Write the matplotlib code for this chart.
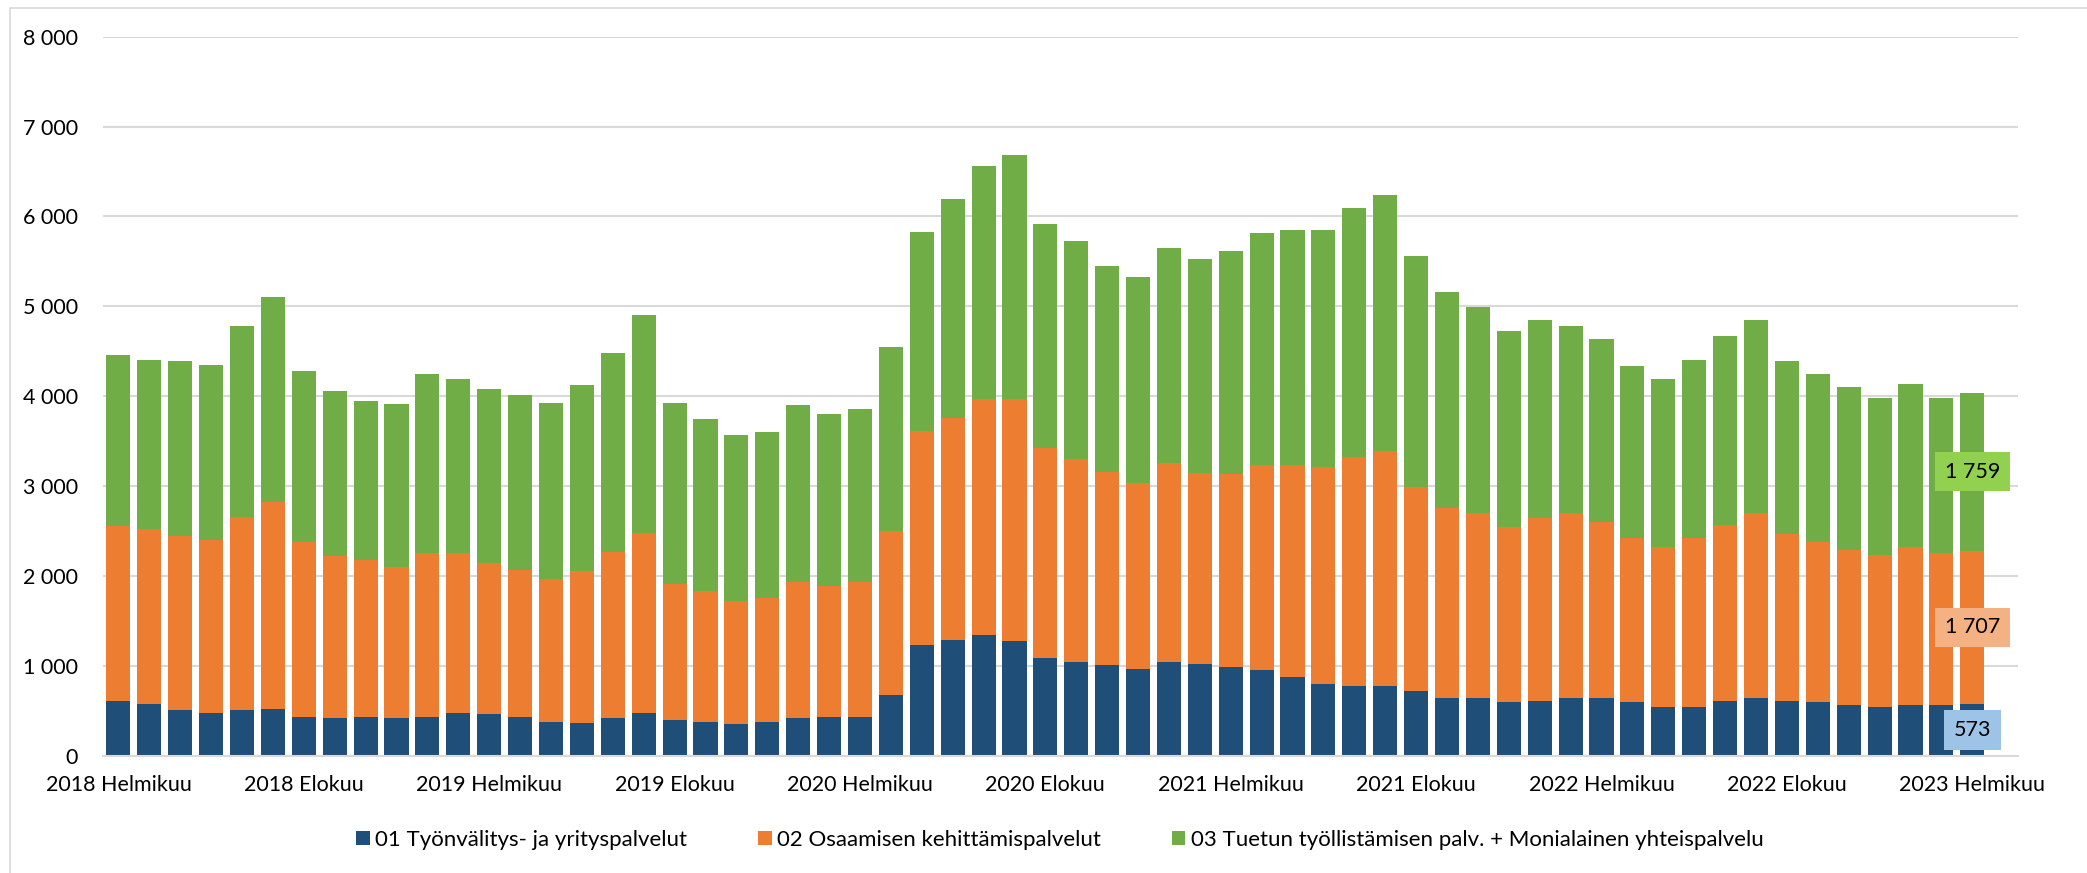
import matplotlib
matplotlib.use("Agg")
import matplotlib.pyplot as plt
from matplotlib.patches import Patch, Rectangle
from matplotlib.ticker import FuncFormatter
import numpy as np

plt.rcParams['font.family'] = ['Lato', 'DejaVu Sans']

# ---- data -------------------------------------------------------------
years = [2018, 2019, 2020, 2021, 2022, 2023]
month_names = ["Tammikuu", "Helmikuu", "Maaliskuu", "Huhtikuu", "Toukokuu",
               "Kesäkuu", "Heinäkuu", "Elokuu", "Syyskuu", "Lokakuu",
               "Marraskuu", "Joulukuu"]
categories = [f"{y} {m}" for y in years for m in month_names]
categories = categories[1:categories.index("2023 Helmikuu") + 1]  # 2018 Helmikuu .. 2023 Helmikuu

series_names = ["01 Työnvälitys- ja yrityspalvelut",
                "02 Osaamisen kehittämispalvelut",
                "03 Tuetun työllistämisen palv. + Monialainen yhteispalvelu"]

tyonvalitys = [607, 576, 508, 471, 508, 520, 434, 415, 434, 415,
               434, 471, 458, 434, 378, 359, 415, 471, 397, 378,
               347, 378, 415, 434, 434, 669, 1233, 1283, 1338, 1270,
               1090, 1041, 1004, 967, 1041, 1016, 991, 954, 880, 793,
               774, 774, 719, 644, 644, 595, 607, 644, 644, 595,
               539, 539, 607, 644, 607, 595, 558, 539, 558, 558,
               573]
osaaminen = [1946, 1946, 1939, 1927, 2150, 2299, 1945, 1803, 1747, 1679,
             1815, 1778, 1686, 1635, 1592, 1698, 1853, 2007, 1517, 1450,
             1369, 1375, 1512, 1456, 1493, 1834, 2379, 2478, 2627, 2695,
             2336, 2261, 2156, 2069, 2212, 2125, 2138, 2280, 2354, 2423,
             2547, 2621, 2267, 2107, 2051, 1945, 2039, 2051, 1958, 1821,
             1784, 1877, 1964, 2051, 1859, 1784, 1728, 1691, 1765, 1691,
             1707]
tuettu = [1907, 1877, 1940, 1951, 2119, 2280, 1902, 1834, 1766, 1816,
          1995, 1939, 1939, 1946, 1958, 2063, 2212, 2429, 2014, 1920,
          1853, 1853, 1976, 1908, 1927, 2045, 2218, 2429, 2596, 2720,
          2491, 2423, 2292, 2292, 2398, 2386, 2484, 2584, 2615, 2633,
          2776, 2844, 2572, 2404, 2299, 2181, 2199, 2082, 2032, 1921,
          1865, 1983, 2101, 2150, 1921, 1865, 1816, 1748, 1816, 1729,
          1759]

# ---- style ------------------------------------------------------------
bar_colors = ["#1F4E79", "#ED7D31", "#70AD47"]
label_box_colors = ["#9DC3E6", "#F4B183", "#92D050"]
grid_color = "#D9D9D9"
FS = 15.5
LFS = 16

W, H = 2087, 873
fig = plt.figure(figsize=(W / 100, H / 100), dpi=100)
ax = fig.add_axes([103 / W, 1 - 755.6 / H, (2018 - 103) / W, (755.6 - 36.7) / H])

x = np.arange(len(categories))
bottom = np.zeros(len(categories))
containers = []
for vals, col, name in zip([tyonvalitys, osaaminen, tuettu], bar_colors, series_names):
    vals = np.array(vals, dtype=float)
    c = ax.bar(x, vals, width=0.78, bottom=bottom, color=col, label=name, zorder=3)
    containers.append((c, vals))
    bottom += vals

# data labels on last bar
for (c, vals), bc in zip(containers, label_box_colors):
    labels = [""] * (len(vals) - 1) + [f"{int(vals[-1]):,}".replace(",", " ")]
    ax.bar_label(c, labels=labels, label_type="center", fontsize=FS, color="black",
                 bbox=dict(boxstyle="square,pad=0.45", facecolor=bc, edgecolor="none"),
                 zorder=5)

ax.set_ylim(0, 8000)
ax.set_xlim(-0.5, 61.48)
ax.set_yticks(np.arange(0, 8001, 1000))
ax.yaxis.set_major_formatter(FuncFormatter(lambda v, p: f"{int(v):,}".replace(",", " ")))
tick_pos = x[::6]
ax.set_xticks(tick_pos)
ax.set_xticklabels([categories[i] for i in tick_pos])
ax.tick_params(axis="both", length=0, labelsize=FS, colors="black")
ax.tick_params(axis="y", pad=18)
ax.tick_params(axis="x", pad=14)

ax.grid(axis="y", color=grid_color, linewidth=1.5, zorder=0)
ax.set_axisbelow(True)
for s in ["top", "right", "left"]:
    ax.spines[s].set_visible(False)
ax.spines["bottom"].set_color(grid_color)
ax.spines["bottom"].set_linewidth(1.5)
ax.spines["bottom"].set_zorder(4)

handles = [Patch(facecolor=c, edgecolor="none") for c in bar_colors]
fig.legend(handles, series_names, loc="center", bbox_to_anchor=(1060 / W, 1 - 840 / H),
           ncol=3, frameon=False, fontsize=LFS, handlelength=0.6, handleheight=0.6,
           handletextpad=0.25, columnspacing=3.2)

# chart-area border (right/bottom edges lie outside the image)
fig.patches.append(Rectangle((10 / W, -0.05), 1.1, 1 - 8 / H + 0.05, transform=fig.transFigure,
                             facecolor="none", edgecolor=grid_color, linewidth=1.2))

fig.savefig("out.png", dpi=100)
